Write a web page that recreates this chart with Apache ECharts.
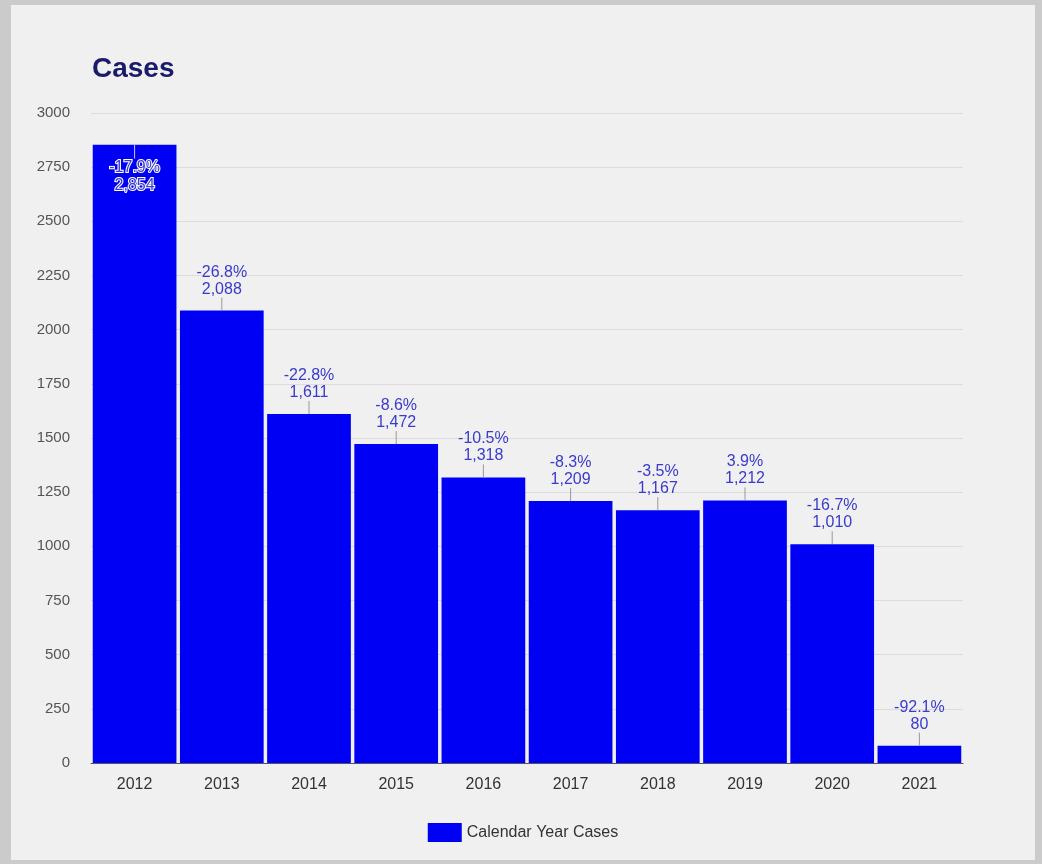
<!DOCTYPE html>
<html lang="en">
  <head>
    <meta charset="UTF-8" />
    <title>Cases</title>
    <script src="https://cdn.jsdelivr.net/npm/echarts@6/dist/echarts.min.js"></script>
    <style>
      body { margin: 0; background: #cbcbcb; }
      #main { position: absolute; left: 11px; top: 5px; width: 1024px; height: 855px; }
    </style>
  </head>
  <body>
    <div id="main"></div>
    <script>
      const years = ['2012', '2013', '2014', '2015', '2016', '2017', '2018', '2019', '2020', '2021'];
      const cases = [2854, 2088, 1611, 1472, 1318, 1209, 1167, 1212, 1010, 80];
      const changes = ['-17.9%', '-26.8%', '-22.8%', '-8.6%', '-10.5%', '-8.3%', '-3.5%', '3.9%', '-16.7%', '-92.1%'];

      const mCharts = echarts.init(document.getElementById('main'));
      const labelColor = '#3a3acc';

      const barData = cases.map(function (v, i) {
        const item = { value: v };
        if (i === 0) {
          // tallest bar: label sits inside with white outline
          item.label = {
            position: 'insideTop',
            distance: 14,
            textBorderColor: '#fff',
            textBorderWidth: 2,
            lineHeight: 18,
          };
        }
        return item;
      });

      const option = {
        backgroundColor: '#f0f0f0',
        animation: false,
        title: {
          text: 'Cases',
          left: 76,
          top: 45,
          textStyle: { fontFamily: 'Liberation Sans', fontSize: 28, fontWeight: 'bold', color: '#1b1b6b' },
        },
        grid: { left: 80, right: 72, top: 108, bottom: 97 },
        legend: {
          bottom: 13,
          left: 'center',
          icon: 'rect',
          itemWidth: 34,
          itemHeight: 19,
          itemGap: 8,
          data: ['Calendar Year Cases'],
          textStyle: { fontFamily: 'Liberation Sans', fontSize: 16, color: '#333' },
        },
        xAxis: {
          type: 'category',
          data: years,
          axisTick: { show: false },
          axisLine: { lineStyle: { color: '#555', width: 1 } },
          axisLabel: { margin: 14, fontFamily: 'Liberation Sans', fontSize: 16, color: '#333' },
        },
        yAxis: {
          type: 'value',
          min: 0,
          max: 3000,
          interval: 250,
          axisLabel: {
            margin: 21,
            fontFamily: 'Liberation Sans',
            fontSize: 15,
            color: '#555',
            formatter: function (v) { return String(v); },
          },
          splitLine: { lineStyle: { color: '#dcdcdc' } },
        },
        series: [
          {
            name: 'Calendar Year Cases',
            type: 'bar',
            data: barData,
            barCategoryGap: '4%',
            itemStyle: { color: '#0000f5' },
            label: {
              show: true,
              position: 'top',
              distance: 13,
              lineHeight: 17,
              fontFamily: 'Liberation Sans',
              fontSize: 16,
              color: labelColor,
              formatter: function (p) {
                return changes[p.dataIndex] + '\n' + p.value.toLocaleString('en-US');
              },
            },
          },
          {
            type: 'custom',
            silent: true,
            z: 5,
            data: cases.map(function (v, i) { return [i, v]; }),
            encode: { x: 0, y: 1 },
            renderItem: function (params, api) {
              const pt = api.coord([api.value(0), api.value(1)]);
              const len = params.dataIndex === 0 ? 14 : -13;
              return {
                type: 'line',
                shape: { x1: pt[0], y1: pt[1], x2: pt[0], y2: pt[1] + len },
                style: { stroke: params.dataIndex === 0 ? '#c8c8f0' : '#999', lineWidth: 1 },
              };
            },
          },
        ],
      };
      mCharts.setOption(option);
    </script>
  </body>
</html>
